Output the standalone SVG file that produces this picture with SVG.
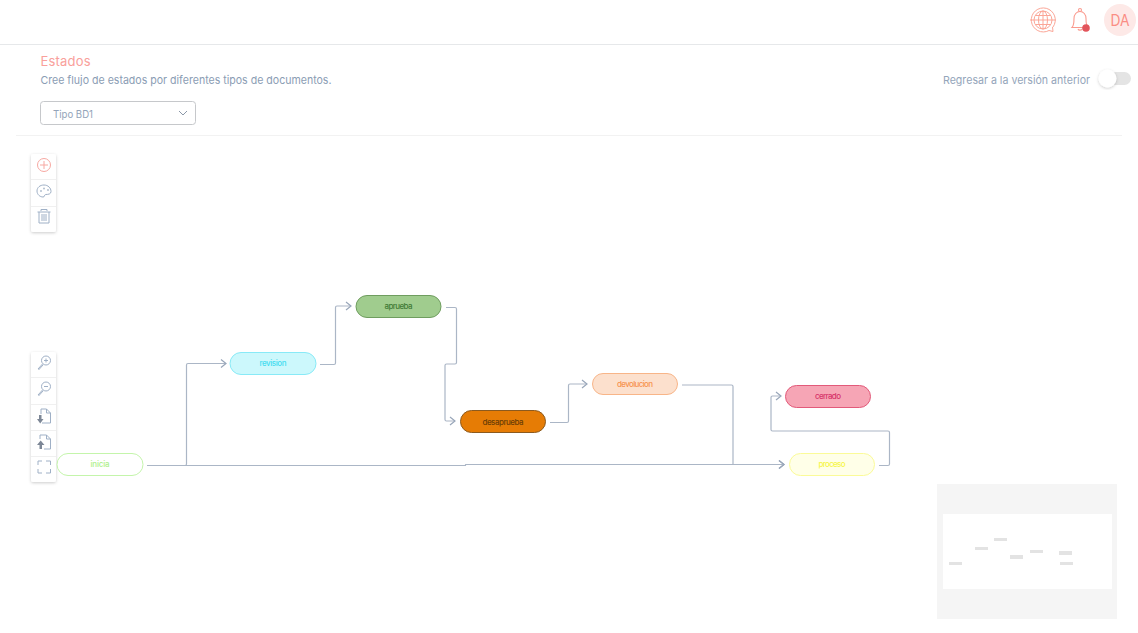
<svg xmlns="http://www.w3.org/2000/svg" width="1138" height="633" viewBox="0 0 1138 633">
<style>
text{font-family:"Inter","Liberation Sans",sans-serif}
.nl{font-size:8px;text-anchor:middle;font-weight:500}
.n{stroke-width:1}
.c{fill:none;stroke:#abb6c6;stroke-width:1.2;stroke-linejoin:round}
.ca{marker-end:url(#arr)}
.tb{fill:#fff;filter:url(#sh)}
.sep{stroke:#f0f0f0;stroke-width:1}
.ic{fill:none;stroke:#9fb0c6;stroke-width:1}
.ic2{fill:none;stroke:#f7a8a2;stroke-width:1}
.mm{fill:#e3e3e3}
</style>
<defs>
<marker id="arr" markerUnits="userSpaceOnUse" markerWidth="10" markerHeight="12" refX="7" refY="5" orient="auto"><path d="M2 1 L7 5 L2 9" fill="none" stroke="#98a6b9" stroke-width="1.2"/></marker>
<filter id="sh" x="-30%" y="-10%" width="160%" height="120%"><feDropShadow dx="0" dy="1" stdDeviation="1.5" flood-color="#000" flood-opacity="0.2"/></filter>
</defs>
<rect width="1138" height="633" fill="#fff"/>
<g id="header">
<rect x="0" y="44" width="1138" height="1" fill="#e6e8ea"/>
<g id="globe" fill="none" stroke="#fba697" stroke-width="1">
<circle cx="1043" cy="20" r="9"/><path d="M1053 27A12 12 0 1 0 1049 30.500"/>
<ellipse cx="1043" cy="20" rx="4.500" ry="9"/><path d="M1043 11V29M1034 20H1052M1035.500 15.500H1050.500M1035.500 24.500H1050.500M1030 20H1034M1052 20H1056"/>
<path d="M1049 30.500l4 1-.5-4.500" fill="#fff"/>
</g>
<g id="bell" fill="none" stroke="#fa9a8e" stroke-width="1.100">
<path d="M1072 27.500c2-2 2-5 2-9c0-4 2.500-7 6-7s6 3 6 7c0 4 0 7 2 9Z"/><circle cx="1080" cy="10" r="1.500"/><path d="M1078 29c.5 1.500 3.500 1.500 4 0"/>
</g>
<circle cx="1086" cy="28" r="3.800" fill="#e2545b"/>
<g id="avatar"><circle cx="1120" cy="20" r="16" fill="#fde9e7"/><text x="1120" y="26" font-size="16" text-anchor="middle" fill="#fa8d84" textLength="19" lengthAdjust="spacingAndGlyphs">DA</text></g>
</g>
<g id="title">
<text x="40.500" y="66" font-size="13" fill="#f9a09b" textLength="50">Estados</text>
<text x="40.500" y="84" font-size="11" fill="#8b9db4" textLength="291" lengthAdjust="spacingAndGlyphs">Cree flujo de estados por diferentes tipos de documentos.</text>
</g>
<g id="toggle">
<text x="943" y="84" font-size="11" fill="#94a5ba" textLength="147" lengthAdjust="spacingAndGlyphs">Regresar a la versión anterior</text>
<rect x="1103" y="72" width="28" height="13" rx="6.500" fill="#e4e4e4"/>
<circle cx="1107.500" cy="78.500" r="9" fill="#fff" style="filter:url(#sh)"/>
</g>
<g id="select">
<rect x="40.500" y="101.500" width="155" height="23" rx="3" fill="#fff" stroke="#c6c8cb"/>
<text x="53" y="118" font-size="10.500" fill="#93a4b9" textLength="40" lengthAdjust="spacingAndGlyphs">Tipo BD1</text>
<path d="M179 111l4 4l4-4" fill="none" stroke="#8b98a8" stroke-width="1"/>
</g>
<rect x="16" y="135" width="1106" height="1" fill="#f2f2f2"/>
<g id="toolbar-top">
<rect class="tb" x="31" y="154" width="25" height="78" rx="2"/>
<path class="sep" d="M31 179.500H56M31 206.500H56"/>
<circle cx="44" cy="165" r="6.500" class="ic2"/><path class="ic2" d="M44 161V169M40 165H48"/>
<path class="ic" d="M44 185c-4 0-7 2.500-7 6s3 6 6 6c2 0 1-2 2.500-2.500c3 0 5.500-.5 5.500-3c0-3.500-3-6.500-7-6.500Z"/>
<circle cx="41" cy="191" r="1" fill="#b3c0d0"/><circle cx="44" cy="188.500" r="1" fill="#b3c0d0"/><circle cx="48" cy="190" r="1" fill="#b3c0d0"/>
<path class="ic" d="M37.500 212H50.500M39 212V223H49V212M41 211V209.500H47V211M42 214V221M44 214V221M46 214V221"/>
</g>
<g id="toolbar-bottom">
<rect class="tb" x="31" y="352" width="25" height="130" rx="2"/>
<path class="sep" d="M31 377.500H56M31 404.500H56M31 430.500H56M31 456.500H56"/>
<g class="ic"><circle cx="46" cy="360.500" r="4.500"/><path d="M46 358.500V362.500M44 360.500H48M42.500 364L38 369M43 365L38.500 370"/></g>
<g class="ic"><circle cx="46" cy="386.500" r="4.500"/><path d="M44 386.500H48M42.500 390L38 395M43 391L38.500 396"/></g>
<g class="ic"><path d="M41 409H46.500L50.500 413V423H42"/><path d="M46.500 409V413H50.500M41 409V414"/></g>
<path d="M39 415H41.500V419H43.500L40.200 423.500L37 419H39Z" fill="#7d8796"/>
<g class="ic"><path d="M40 435H46.500L50.500 439V449H44"/><path d="M46.500 435V439H50.500M40 435V439"/></g>
<path d="M39.500 449V445H37L40.700 440.500L44.500 445H42V449Z" fill="#7d8796"/>
<path class="ic" d="M38 465V461H42M46 461H50.500V465M50.500 469V473H46M42 473H38V469"/>
</g>
<g id="connectors">
<path class="c ca" d="M147 465.500H185Q186.500 465.500 186.500 464V365Q186.500 363.500 188 363.500H226"/>
<path class="c ca" d="M147 465.500H465.500V464.500H784"/>
<path class="c ca" d="M320 364.500H334Q335.500 364.500 335.500 363V307.500Q335.500 306 337 306H351"/>
<path class="c ca" d="M446 307.500H455Q456.500 307.500 456.500 309V362.500Q456.500 364 455 364H446.500Q445 364 445 365.500V419.500Q445 421 446.500 421H455"/>
<path class="c ca" d="M550 422.500H567Q568.500 422.500 568.500 421V385.500Q568.500 384 570 384H587"/>
<path class="c ca" d="M682 385H731.500Q733 385 733 386.500V464.500H784"/>
<path class="c ca" d="M879 465.500H888Q889.500 465.500 889.500 464V432.500Q889.500 431 888 431H772.500Q771 431 771 429.500V397.500Q771 396 772.500 396H781"/>
</g>
<g id="inicia"><rect class="n" x="57" y="453.500" width="86" height="22" rx="11" fill="#fff" stroke="#c4f5ab"/><text class="nl" x="100" y="467" fill="#aef08a" textLength="19">inicia</text></g>
<g id="revision"><rect class="n" x="230" y="352.500" width="86" height="22" rx="11" fill="#ccf8fc" stroke="#88eaf7"/><text class="nl" x="273" y="366" fill="#45dcf0" textLength="27">revision</text></g>
<g id="aprueba"><rect class="n" x="356" y="295.500" width="85" height="22" rx="11" fill="#a0cc8e" stroke="#6f9d5f"/><text class="nl" x="398.500" y="309" fill="#3f7a35" textLength="28">aprueba</text></g>
<g id="desaprueba"><rect class="n" x="460.500" y="410.500" width="85" height="22" rx="11" fill="#e67c05" stroke="#8c5a1e"/><text class="nl" x="503" y="425" fill="#6b3c05" textLength="41">desaprueba</text></g>
<g id="devolucion"><rect class="n" x="592.500" y="373.500" width="85" height="21" rx="10.500" fill="#fce0cd" stroke="#f8b588"/><text class="nl" x="635" y="387" fill="#f7934f" textLength="36">devolucion</text></g>
<g id="cerrado"><rect class="n" x="785.500" y="385.500" width="85" height="22" rx="11" fill="#f6a5b5" stroke="#e25a7a"/><text class="nl" x="828" y="399" fill="#d6336a" textLength="26">cerrado</text></g>
<g id="proceso"><rect class="n" x="789.500" y="453.500" width="85" height="22" rx="11" fill="#ffffe8" stroke="#fbfb98"/><text class="nl" x="832" y="467" fill="#f6f64a" textLength="27">proceso</text></g>
<g id="minimap">
<rect x="937" y="484" width="180" height="135" fill="#f5f5f5"/>
<rect x="943" y="514" width="169" height="75" fill="#fff"/>
<rect class="mm" x="949" y="562" width="13" height="3"/>
<rect class="mm" x="975" y="547" width="13" height="3"/>
<rect class="mm" x="994" y="538" width="13" height="3"/>
<rect class="mm" x="1010" y="555" width="13" height="4"/>
<rect class="mm" x="1030" y="550" width="13" height="3"/>
<rect class="mm" x="1059" y="551" width="13" height="4"/>
<rect class="mm" x="1060" y="562" width="13" height="3"/>
</g>
</svg>
